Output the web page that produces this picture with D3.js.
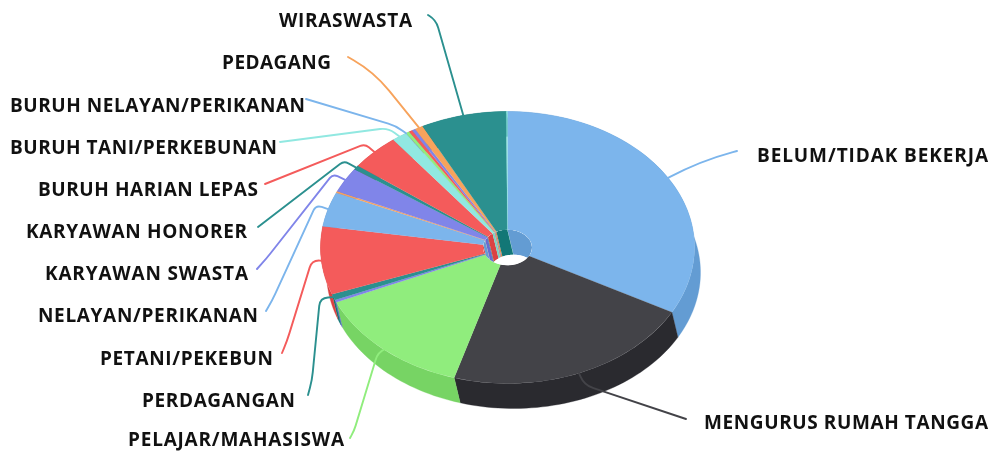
<!DOCTYPE html>
<html><head><meta charset="utf-8">
<script src="https://cdn.jsdelivr.net/npm/d3@7"></script>
<style>html,body{margin:0;padding:0;background:#fff}svg{display:block;filter:blur(.35px)}</style>
</head><body><svg id="c" width="993" height="452"></svg>
<script>
// DATA (share of total, %, in drawing order clockwise from 12 o'clock)
const categories = ["BELUM/TIDAK BEKERJA","MENGURUS RUMAH TANGGA","PELAJAR/MAHASISWA","lainnya a","PERDAGANGAN","PETANI/PEKEBUN","NELAYAN/PERIKANAN","lainnya b","KARYAWAN SWASTA","KARYAWAN HONORER","BURUH HARIAN LEPAS","BURUH TANI/PERKEBUNAN","BURUH NELAYAN/PERIKANAN","lainnya c","lainnya d","lainnya e","PEDAGANG","WIRASWASTA","lainnya f"];
const values = [32.9,21.7,13.8,0.3,0.7,8.1,4.1,0.2,2.95,0.5,4.3,1.3,0.05,0.3,0.3,0.3,0.7,7.4,0.1];
const colors = ["#7cb5ec","#434348","#90ed7d","#8085e9","#2b908f","#f45b5b","#7cb5ec","#f7a35c","#8085e9","#2b908f","#f45b5b","#91e8e1","#7cb5ec","#90ed7d","#f45b5b","#8085e9","#f7a35c","#2b908f","#91e8e1"];

// LAYOUT
const G = {cx:507.5, cy:247.5, rx:187, ry:136, hole:24.5, dx:6, dy:25};
const font = {family:"'Open Sans'", size:19, weight:700};
const labelLayout = {
 "WIRASWASTA":{x:412,y:27,w:133,a:[428,15],k:[436,20],r:8},
 "PEDAGANG":{x:331,y:69,w:109,a:[348,57],k:[374,72],r:24},
 "BURUH NELAYAN/PERIKANAN":{x:305,y:112,w:295,a:[306,99],k:[396,126],r:8},
 "BURUH TANI/PERKEBUNAN":{x:277,y:154,w:267,a:[280,142],k:[388,128],r:8},
 "BURUH HARIAN LEPAS":{x:258,y:196,w:220,a:[265,184],k:[365,144],r:5},
 "KARYAWAN HONORER":{x:247,y:238,w:221,a:[258,227],k:[344,161],r:5},
 "KARYAWAN SWASTA":{x:248,y:280,w:203,a:[257,269],k0:[266,259],k:[333,174],r:5},
 "NELAYAN/PERIKANAN":{x:258,y:322,w:220,a:[266,311],k0:[272,301],k:[316,205],r:6},
 "PETANI/PEKEBUN":{x:273,y:365,w:173,a:[282,353],k0:[287,341],k:[312,260],r:8},
 "PERDAGANGAN":{x:295,y:407,w:153,a:[308,395],k0:[312,380],k:[320,298],r:8},
 "PELAJAR/MAHASISWA":{x:344,y:446,w:216,a:[350,438],k0:[354,431],k:[378,352],r:8},
 "BELUM/TIDAK BEKERJA":{x:757,y:162,w:231,a:[737,151],k:[700,161],r:34,start:true},
 "MENGURUS RUMAH TANGGA":{x:704,y:429,w:284,a:[686,419],k:[584,385],r:10,start:true}
};

const svg = d3.select("#c");
const pie = d3.pie().sort(null).value(d=>d).startAngle(0).endAngle(2*Math.PI);
const arcs = pie(values);
const yS = G.ry/G.rx;
const px = (a,r,s=0)=>[G.cx+s*G.dx+r*Math.sin(a), G.cy+s*G.dy-r*yS*Math.cos(a)];
const line = d3.line();
function sweep(a0,a1,r){
  const n=Math.max(2,Math.ceil(Math.abs(a1-a0)/0.03));
  const t=d3.range(n+1).map(i=>a0+(a1-a0)*i/n);
  return line(t.map(a=>px(a,r,0)).concat(t.slice().reverse().map(a=>px(a,r,1))))+"Z";
}
const side = c=>{const r=d3.rgb(c);return d3.rgb(r.r-25.5,r.g-25.5,r.b-25.5).formatHex();};

// outer wall
svg.append("g").selectAll("path").data(arcs).join("path")
  .attr("d",d=>sweep(d.startAngle,d.endAngle,G.rx))
  .attr("fill",(d,i)=>side(colors[i]))
  .attr("stroke",(d,i)=>side(colors[i])).attr("stroke-width",.3);

// top faces
const arc=d3.arc().innerRadius(G.hole).outerRadius(G.rx);
svg.append("g").attr("transform",`translate(${G.cx},${G.cy}) scale(1,${yS})`)
  .selectAll("path").data(arcs).join("path").attr("d",arc)
  .attr("fill",(d,i)=>colors[i]).attr("stroke",(d,i)=>colors[i]).attr("stroke-width",.2);

// inner wall visible through the hole
const defs=svg.append("defs");
defs.append("clipPath").attr("id","hc").append("ellipse")
  .attr("cx",G.cx).attr("cy",G.cy).attr("rx",G.hole).attr("ry",G.hole*yS);
const hg=svg.append("g").attr("clip-path","url(#hc)");
hg.append("ellipse").attr("cx",G.cx).attr("cy",G.cy).attr("rx",G.hole).attr("ry",G.hole*yS).attr("fill","#fff");
hg.selectAll("path").data(arcs).join("path")
  .attr("d",d=>sweep(d.startAngle,d.endAngle,G.hole))
  .attr("fill",(d,i)=>side(colors[i]));
hg.append("ellipse").attr("cx",G.cx+G.dx).attr("cy",G.cy+G.dy).attr("rx",G.hole).attr("ry",G.hole*yS).attr("fill","#fff");

// connectors and labels
const conn=svg.append("g").attr("fill","none").attr("stroke-width",1.9).attr("stroke-linecap","round");
const txt=svg.append("g").attr("font-family",font.family).attr("font-size",font.size)
  .attr("font-weight",font.weight).attr("fill","#111");
const toward=(p,q,r)=>{const l=Math.hypot(q[0]-p[0],q[1]-p[1]);return [p[0]+(q[0]-p[0])*r/l,p[1]+(q[1]-p[1])*r/l];};
arcs.forEach((d,i)=>{
  const L=labelLayout[categories[i]]; if(!L) return;
  const P=px((d.startAngle+d.endAngle)/2,G.rx);
  const k1=toward(L.k,L.k0||L.a,L.r),k2=toward(L.k,P,L.r);
  let p=`M${L.a}`;
  if(L.k0){
    const r0=Math.min(8,Math.hypot(L.k0[0]-L.a[0],L.k0[1]-L.a[1])*.7);
    p+=`L${toward(L.k0,L.a,r0)}Q${L.k0} ${toward(L.k0,L.k,r0)}`;
  }
  p+=`L${k1}Q${L.k} ${k2}L${P}`;
  conn.append("path").attr("stroke",colors[i]).attr("d",p);
  txt.append("text").attr("x",L.x).attr("y",L.y)
    .attr("text-anchor",L.start?"start":"end")
    .attr("textLength",L.w).attr("lengthAdjust","spacing")
    .text(categories[i]);
});
</script></body></html>
